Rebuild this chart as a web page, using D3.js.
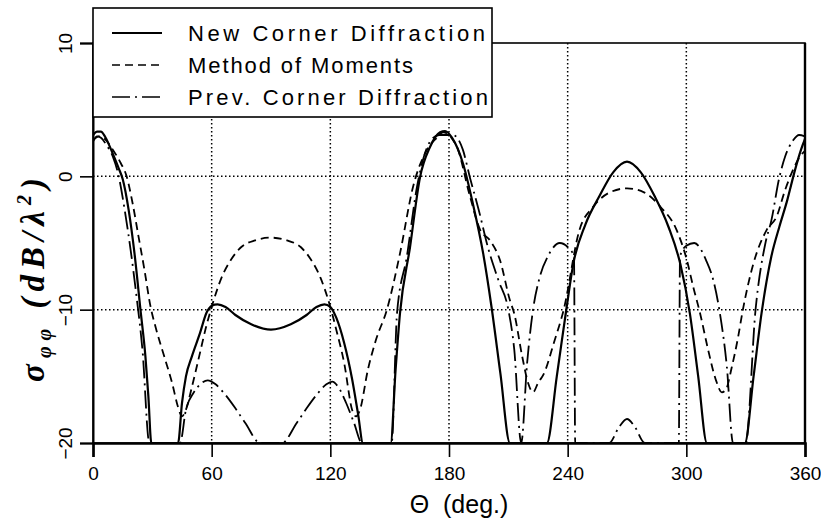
<!DOCTYPE html>
<html>
<head>
<meta charset="utf-8">
<script src="https://cdn.jsdelivr.net/npm/d3@7"></script>
<style>
body{margin:0;background:#fff;}
svg{display:block;}
</style>
</head>
<body>
<script>
(function(){

//angle ticks and dB ticks
var xTicks = [0, 60, 120, 180, 240, 300, 360];
var yTicks = [10, 0, -10, -20];

//New Corner Diffraction (solid)
var thetaNew = [0, 2, 4, 6, 8, 10, 13, 15, 18, 21, 24, 26.5, 28, 29.5,
    43, 45, 47, 50, 54, 57.5, 60, 63, 67, 72, 80, 90, 100, 108, 113, 117, 120, 123, 127, 131, 134, 136.5,
    150.5, 153, 155.2, 160.3, 165.3, 170.4, 175.5, 178, 181.5, 187, 192, 197.3, 201.5, 206, 210.8,
    229.5, 234.5, 239.5, 242.8, 249, 256, 263, 270, 277, 284, 291, 297, 301.8, 306, 310.4,
    329.6, 334, 338, 343, 347, 351, 355, 358, 360];
var dbNew = [3.1, 3.35, 3.35, 3.0, 2.4, 1.7, 0.6, -0.2, -2.5, -5.8, -10, -13.5, -16.5, -20,
    -20, -17, -15, -13.5, -11.8, -10.2, -9.7, -9.6, -9.8, -10.4, -11.1, -11.5, -11.1, -10.4, -9.8, -9.6, -9.8, -10.6, -12.5, -15.2, -17.8, -20,
    -20, -14.5, -10.3, -5.3, -0.1, 2.2, 3.3, 3.4, 2.9, 1.0, -2.0, -5.8, -9.8, -14.8, -20,
    -20, -15, -9.8, -6.6, -3.6, -1.5, 0.3, 1.1, 0.3, -1.5, -3.8, -6.6, -10.3, -15, -20,
    -20, -15, -10.3, -6, -3.8, -1.8, 0.5, 2, 2.8];

//Method of Moments (dashed)
var thetaMom = [0, 3, 6, 10, 14, 17, 20, 23, 26, 29, 32, 36, 40, 43, 45, 47, 50, 54, 57, 60, 65, 70, 75, 82, 90,
    98, 105, 110, 115, 120, 123, 127, 131, 133, 135, 139, 143, 148.6, 155.2, 161.8, 168.9, 173.9, 177,
    184, 190.6, 195.7, 200.7, 205.8, 210.8, 213, 217, 220, 222.5, 225, 228, 233, 238, 246, 252.8, 261.4, 270,
    278.6, 287, 295, 300.3, 303.5, 307, 311, 315, 318, 320, 323, 326, 328.6, 334, 340.7, 345.7, 350, 354, 357.5, 360];
var dbMom = [2.7, 3.0, 2.8, 2.0, 1.0, 0, -2, -4.5, -7, -9.7, -11.5, -13.5, -15.5, -17.3, -18, -17.5, -15.8, -13.3, -11.4, -9.8, -7.6, -6.2, -5.3, -4.8, -4.6,
    -4.8, -5.3, -6.2, -7.6, -9.8, -11.5, -14, -17.5, -18, -17.5, -14.5, -12.3, -10, -5.8, -0.8, 2.0, 2.9, 3.3,
    2.2, -1.5, -4.0, -4.8, -6.3, -9.3, -10.3, -13.5, -15.5, -16.2, -15.5, -14.8, -12.5, -10, -4, -2.3, -1.2, -0.9,
    -1.2, -2.3, -4, -6.3, -8.3, -10.3, -13, -15.3, -16.2, -16, -14.3, -12.2, -10, -6.5, -4, -3, -1, 0.5, 1.5, 1.9];

//Prev. Corner Diffraction (dash-dot)
var thetaPrev = [0, 2, 4, 7, 10, 13, 16, 19, 22, 25, 28.5,
    44, 47, 51, 55, 58, 62, 67, 72, 77, 84.5, 95.5, 103, 108, 113, 118, 121, 124, 128, 132, 136,
    151, 153.7, 158.7, 163.8, 170.4, 175, 182, 187, 190.6, 195, 200, 205, 210, 213, 216.5,
    219.5, 222.5, 226, 230, 236, 240, 243.2, 243.8,
    261, 266, 270, 274, 279,
    296.2, 296.8, 300, 304, 310, 314, 317, 320.5, 323.6,
    330, 335, 340, 343, 347, 350, 354, 357, 360];
var dbPrev = [2.6, 3.0, 2.9, 2.3, 1.5, 0, -2.5, -5.5, -9, -13, -20,
    -20, -17.5, -16.2, -15.5, -15.3, -15.6, -16.4, -17.4, -18.5, -20, -20, -18.5, -17.4, -16.4, -15.6, -15.4, -15.8, -17, -18.5, -20,
    -20, -10.3, -6, -0.8, 2.6, 3.1, 3.1, 2.0, -0.1, -2.5, -5.5, -7.8, -10, -13, -20,
    -14, -10, -7.5, -6, -5, -5.3, -6, -20,
    -20, -18.8, -18.2, -18.8, -20,
    -20, -6, -5.2, -5, -6.3, -8, -10.3, -14.3, -20,
    -20, -10, -5, -3.3, -0.1, 1.5, 2.7, 3.1, 3.0];

var legendNames = ["New Corner Diffraction", "Method of Moments", "Prev. Corner Diffraction"];
var legendDash = ["none", "8,5", "18,5,2,5"];
var legendWidths = [297, 225, 300];

//frame dimensions
var width = 821,
    height = 526,
    left = 93,
    right = 805,
    top = 43,
    bottom = 443;

var svg = d3.select("body")
    .append("svg")
    .attr("width", width)
    .attr("height", height);

var x = d3.scaleLinear().domain([0, 360]).range([left, right]);
var y = d3.scaleLinear().domain([-20, 10]).range([bottom, top]);

//dotted grid
svg.selectAll(".vgrid")
    .data(xTicks.slice(1, -1))
    .enter()
    .append("line")
    .attr("x1", function(d){ return x(d); })
    .attr("x2", function(d){ return x(d); })
    .attr("y1", top)
    .attr("y2", bottom)
    .attr("stroke", "#000")
    .attr("stroke-width", 1.5)
    .attr("stroke-dasharray", "1.5,2.5");

svg.selectAll(".hgrid")
    .data([0, -10])
    .enter()
    .append("line")
    .attr("x1", left)
    .attr("x2", right)
    .attr("y1", function(d){ return y(d); })
    .attr("y2", function(d){ return y(d); })
    .attr("stroke", "#000")
    .attr("stroke-width", 1.5)
    .attr("stroke-dasharray", "1.5,2.5");

//clip curves to the plot box
svg.append("clipPath")
    .attr("id", "plotClip")
    .append("rect")
    .attr("x", left)
    .attr("y", top)
    .attr("width", right - left)
    .attr("height", bottom - top);

var line = d3.line()
    .x(function(d){ return x(d[0]); })
    .y(function(d){ return y(d[1]); })
    .curve(d3.curveMonotoneX);

function drawCurve(thetas, dbs, dash, w){
    var pts = thetas.map(function(t, i){ return [t, dbs[i]]; });
    svg.append("path")
        .datum(pts)
        .attr("clip-path", "url(#plotClip)")
        .attr("fill", "none")
        .attr("stroke", "#000")
        .attr("stroke-width", w)
        .attr("stroke-linejoin", "round")
        .attr("stroke-dasharray", dash)
        .attr("d", line);
};

drawCurve(thetaMom, dbMom, legendDash[1], 1.8);
drawCurve(thetaPrev, dbPrev, legendDash[2], 1.8);
drawCurve(thetaNew, dbNew, legendDash[0], 2.2);

//frame
svg.append("rect")
    .attr("x", left)
    .attr("y", top)
    .attr("width", right - left)
    .attr("height", bottom - top)
    .attr("fill", "none")
    .attr("stroke", "#000")
    .attr("stroke-width", 1.6);

svg.append("line")
    .attr("x1", right).attr("x2", right)
    .attr("y1", top).attr("y2", bottom)
    .attr("stroke", "#000").attr("stroke-width", 2.4);

//x axis
var xAxis = svg.append("g")
    .attr("transform", "translate(0," + bottom + ")")
    .call(d3.axisBottom(x).tickValues(xTicks).tickSize(14).tickPadding(10));
xAxis.select(".domain").attr("stroke-width", 2.6);
xAxis.selectAll(".tick line").attr("stroke-width", 1.6);
xAxis.selectAll("text")
    .attr("font-family", "'Liberation Sans', Arial, sans-serif")
    .attr("font-size", 19);

//y axis with rotated labels
var yAxis = svg.append("g")
    .attr("transform", "translate(" + left + ",0)")
    .call(d3.axisLeft(y).tickValues(yTicks).tickSize(13));
yAxis.select(".domain").attr("stroke-width", 2);
yAxis.selectAll(".tick line").attr("stroke-width", 1.6);
yAxis.selectAll("text")
    .attr("x", null)
    .attr("dy", null)
    .attr("text-anchor", "middle")
    .attr("transform", "translate(-21,0) rotate(-90)")
    .attr("font-family", "'Liberation Sans', Arial, sans-serif")
    .attr("font-size", 19);

//legend box
var legend = svg.append("g");
legend.append("rect")
    .attr("x", 93)
    .attr("y", 8)
    .attr("width", 399)
    .attr("height", 109)
    .attr("fill", "#fff")
    .attr("stroke", "#000")
    .attr("stroke-width", 1.6);

legendNames.forEach(function(name, i){
    var ly = 33 + i * 32;
    legend.append("line")
        .attr("x1", 112)
        .attr("x2", 162)
        .attr("y1", ly)
        .attr("y2", ly)
        .attr("stroke", "#000")
        .attr("stroke-width", i == 0 ? 2 : 1.6)
        .attr("stroke-dasharray", legendDash[i]);
    legend.append("text")
        .attr("x", 188)
        .attr("y", ly + 7.5)
        .attr("font-family", "'Liberation Sans', Arial, sans-serif")
        .attr("font-size", 22)
        .attr("textLength", legendWidths[i])
        .attr("lengthAdjust", "spacing")
        .text(name);
});

//axis titles
svg.append("text")
    .attr("x", 459)
    .attr("y", 513)
    .attr("text-anchor", "middle")
    .attr("font-family", "'Liberation Sans', Arial, sans-serif")
    .attr("font-size", 25)
    .attr("xml:space", "preserve")
    .text("\u0398  (deg.)");

var yTitle = svg.append("text")
    .attr("transform", "translate(44,277) rotate(-90)")
    .attr("text-anchor", "middle")
    .attr("font-family", "'Liberation Serif', 'Times New Roman', serif")
    .attr("font-style", "italic")
    .attr("font-weight", "bold")
    .attr("font-size", 33)
    .attr("letter-spacing", 6);
yTitle.append("tspan").text("\u03c3");
yTitle.append("tspan").attr("font-size", 20).attr("dy", 7).text("\u03c6\u03c6");
yTitle.append("tspan").attr("dy", -7).text(" (dB/\u03bb");
yTitle.append("tspan").attr("font-size", 20).attr("dy", -13).text("2");
yTitle.append("tspan").attr("dy", 13).text(")");

})();
</script>
</body>
</html>
